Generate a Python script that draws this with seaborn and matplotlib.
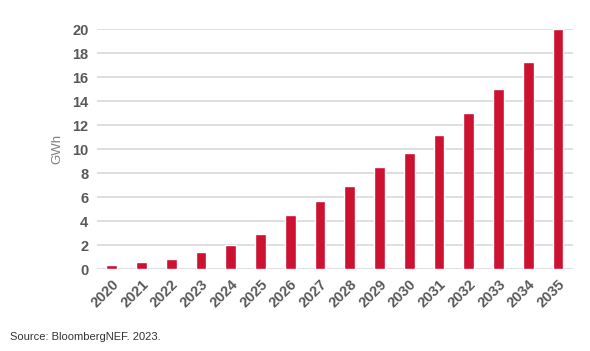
import pandas as pd
import matplotlib
matplotlib.use("Agg")
import matplotlib.pyplot as plt
import seaborn as sns

# Dữ liệu
years = [str(y) for y in range(2020, 2036)]
gwh = [0.38, 0.62, 0.88, 1.4, 2.0, 2.95, 4.5, 5.7, 6.9, 8.5,
       9.7, 11.2, 13.0, 15.0, 17.25, 20.0]
yticks = [0, 2, 4, 6, 8, 10, 12, 14, 16, 18, 20]

df = pd.DataFrame({"year": years, "gwh": gwh})

sns.set_style("white")
plt.rcParams["font.family"] = ["Liberation Sans", "DejaVu Sans"]

fig = plt.figure(figsize=(5.9, 3.51), dpi=100)
ax = fig.add_axes([0.164, 0.233, 0.807, 0.684])

sns.barplot(data=df, x="year", y="gwh", color="#CC1131", width=0.36,
            saturation=1, ax=ax, zorder=3)

ax.set_ylim(0, 20)
ax.set_yticks(yticks)
ax.grid(axis="y", color="#d9d9d9", linewidth=1.2, zorder=0)
ax.set_axisbelow(True)
sns.despine(ax=ax, left=True, bottom=True)
ax.tick_params(length=0, pad=6)

for lbl in ax.get_yticklabels():
    lbl.set_fontweight("bold")
    lbl.set_fontsize(10.5)
    lbl.set_color("#595959")
for lbl in ax.get_xticklabels():
    lbl.set_fontweight("bold")
    lbl.set_fontsize(10.5)
    lbl.set_color("#595959")
    lbl.set_rotation(45)
    lbl.set_ha("right")
    lbl.set_rotation_mode("anchor")

ax.set_xlabel("")
ax.set_ylabel("GWh", fontsize=9.5, color="#7f7f7f", labelpad=6)

fig.text(0.017, 0.03, "Source: BloombergNEF. 2023.", fontsize=8, color="#333333")

plt.savefig("out.png", dpi=100)
